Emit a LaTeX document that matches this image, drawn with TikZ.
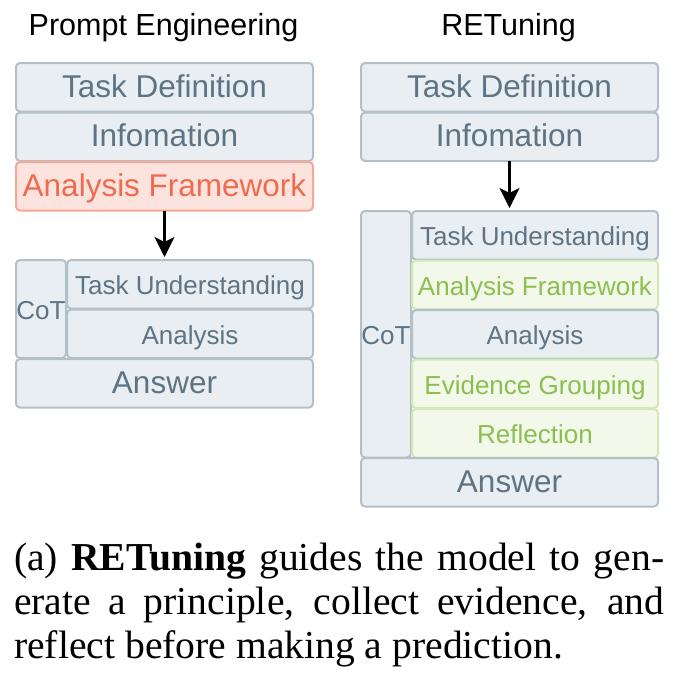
\documentclass[tikz,border=0pt]{standalone}
\usepackage{fontspec}
\setmainfont{Liberation Serif}
\setsansfont{Liberation Sans}
\definecolor{boxfill}{HTML}{E9EEF2}
\definecolor{boxline}{HTML}{B3C0C8}
\definecolor{boxtext}{HTML}{5E7383}
\definecolor{oldfill}{HTML}{FDE3DE}
\definecolor{oldline}{HTML}{F5A896}
\definecolor{oldtext}{HTML}{EE6B4D}
\definecolor{addfill}{HTML}{F2F8EA}
\definecolor{addline}{HTML}{D3E8B5}
\definecolor{addtext}{HTML}{8CBF4F}
\usetikzlibrary{
  arrows.meta,
  positioning,
}
\tikzset{
  >={Stealth[length=20pt,width=20pt,inset=5pt]},
}
\tolerance=10000
\hbadness=10000

\begin{document}
\begin{tikzpicture}[x=1pt, y=-1pt, node distance=1pt,
    block/.style={draw=boxline, fill=boxfill, text=boxtext, line width=2pt,
                  rounded corners=4pt, inner sep=0pt, outer sep=0pt,
                  font=\sffamily\fontsize{31.5}{36}\selectfont,
                  minimum width=297pt, minimum height=48.5pt,
                  text height=22pt, text depth=2.5pt, anchor=north west},
    subblock/.style={block, minimum width=246pt, text height=23pt, text depth=2pt,
                     font=\sffamily\fontsize{26}{30}\selectfont},
    cotblock/.style={block, minimum width=50pt, text height=23pt, text depth=2pt,
                     font=\sffamily\fontsize{26}{30}\selectfont},
    oldpart/.style={draw=oldline, fill=oldfill, text=oldtext},
    addpart/.style={draw=addline, fill=addfill, text=addtext},
    heading/.style={font=\sffamily\fontsize{30.5}{34}\selectfont, anchor=base},
    link/.style={->, line width=2.5pt, shorten >=3pt}]
  \useasboundingbox (0,0) rectangle (680,678);
  % prompt engineering
  \node [heading] (pehead) at (163.5,35) {Prompt Engineering};
  \node [block] (petask) at (16,63) {Task Definition};
  \node [block, below=of petask] (peinfo) {Infomation};
  \node [block, oldpart, below=of peinfo] (peframe) {Analysis Framework};
  \node [cotblock, minimum height=98pt] (pecot) at (16,260) {CoT};
  \node [subblock] (peunder) at (67,260) {Task Understanding};
  \node [subblock, below=of peunder] (peanalysis) {Analysis};
  \node [block] (peanswer) at (16,359) {Answer};
  \draw [link] (peframe.south) -- (peframe.south |- peunder.north);
  % retuning
  \node [heading] (rthead) at (508.5,35) {RETuning};
  \node [block] (rttask) at (361,63) {Task Definition};
  \node [block, below=of rttask] (rtinfo) {Infomation};
  \node [cotblock, minimum height=246.5pt] (rtcot) at (361,211) {CoT};
  \node [subblock] (rtunder) at (412,211) {Task Understanding};
  \node [subblock, addpart, below=of rtunder] (rtframe) {Analysis Framework};
  \node [subblock, below=of rtframe] (rtanalysis) {Analysis};
  \node [subblock, addpart, below=of rtanalysis] (rtgroup) {Evidence Grouping};
  \node [subblock, addpart, below=of rtgroup] (rtreflect) {Reflection};
  \node [block] (rtanswer) at (361,458) {Answer};
  \draw [link] (rtinfo.south) -- (rtinfo.south |- rtunder.north);
  % caption
  \node [anchor=north west, inner sep=0pt, text width=650pt, align=justify,
         font=\fontsize{39.6}{44}\selectfont] (caption) at (14,543)
        {(a) \textbf{RETuning} guides the model to gen-\linebreak
         erate a principle, collect evidence, and\linebreak
         reflect before making a prediction.};
\end{tikzpicture}
\end{document}
